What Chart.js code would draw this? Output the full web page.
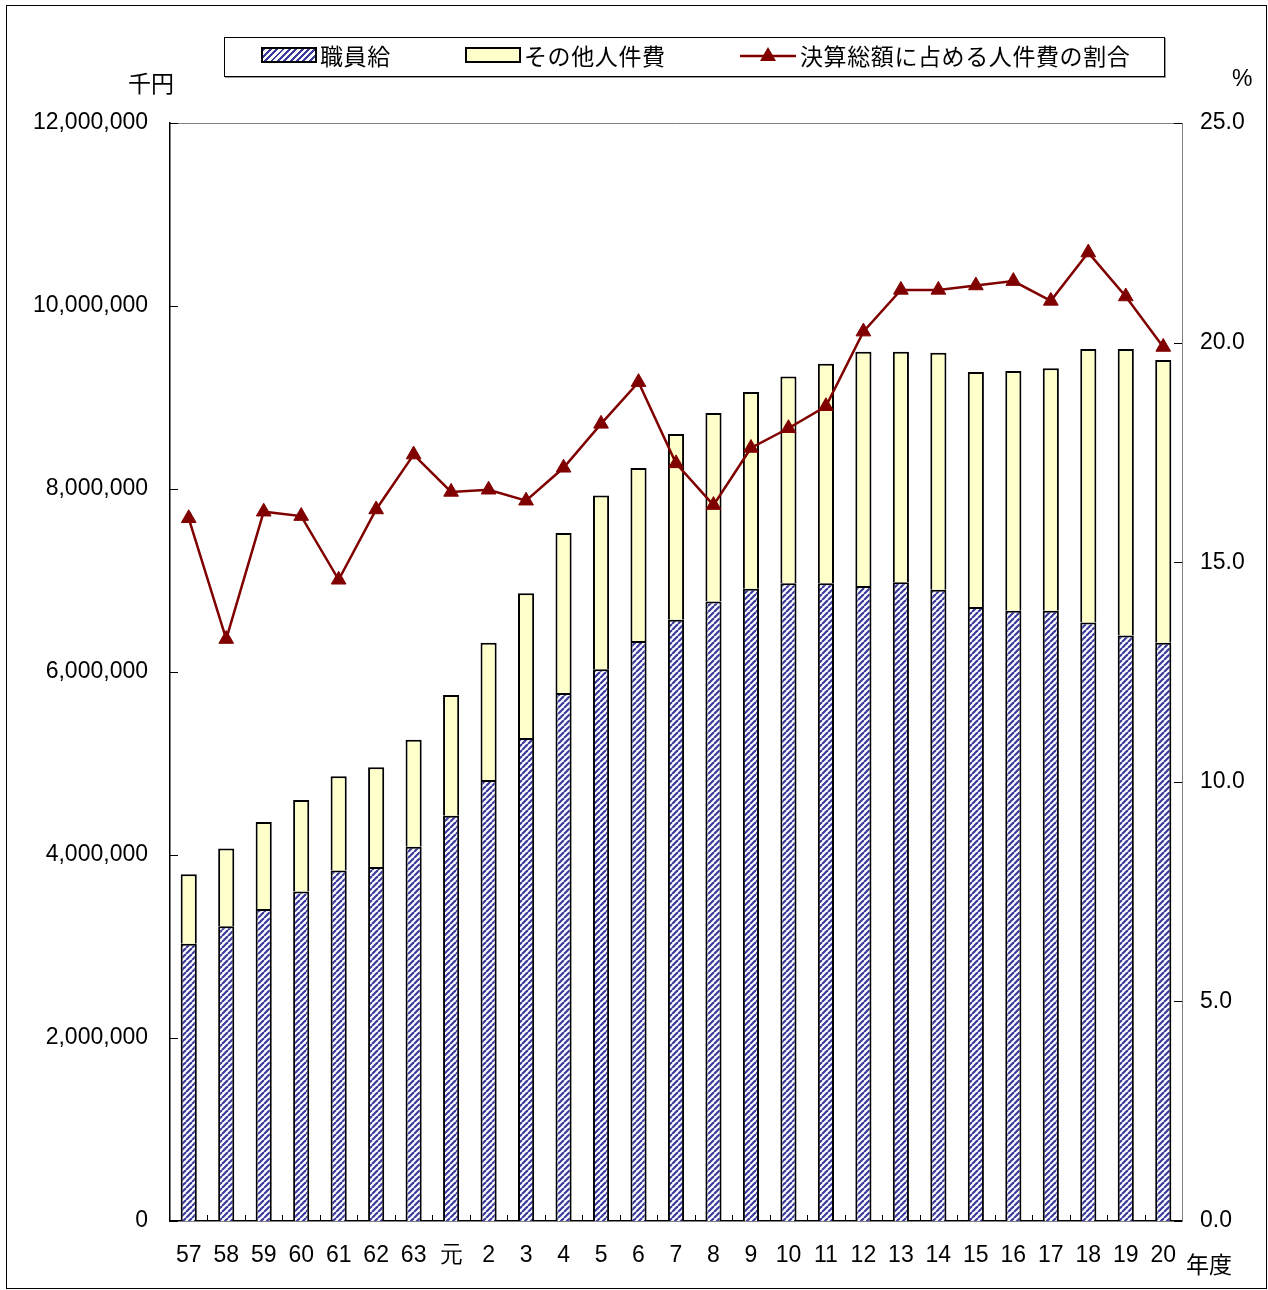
<!DOCTYPE html>
<html lang="ja">
<head>
    <meta charset="UTF-8">
    <title>人件費の推移</title>
    <script src="https://cdn.jsdelivr.net/npm/chart.js"></script>
    <style>
        body {
            margin: 0;
            background: #ffffff;
            font-family: "Liberation Sans", Arial, sans-serif;
        }
        .wrap {
            position: relative;
            width: 1268px;
            height: 1290px;
        }
        .frame {
            position: absolute;
            left: 6px;
            top: 5px;
            width: 1259px;
            height: 1282px;
            border: 1px solid #000;
            pointer-events: none;
        }
        canvas {
            position: absolute;
            left: 0;
            top: 0;
        }
        .legend {
            position: absolute;
            left: 224px;
            top: 37px;
            width: 939px;
            height: 38px;
            border: 1px solid #000;
            box-shadow: 1px 1px 0 #999;
            background: #fff;
        }
        .item {
            position: absolute;
            top: -2px;
            height: 38px;
            display: flex;
            align-items: center;
            font-family: "Noto Sans CJK JP", sans-serif;
            font-size: 23px;
            letter-spacing: 0.6px;
            color: #000;
        }
        .sw {
            width: 52px;
            height: 12px;
            border: 2px solid #000;
            margin-right: 3px;
        }
        .sw.pat {
            background: repeating-linear-gradient(135deg, #3b3b9e 0 2px, #ffffff 2px 4.5px);
        }
        .sw.yel {
            background: #ffffcc;
        }
        .unit {
            position: absolute;
            font-family: "Noto Sans CJK JP", sans-serif;
            font-size: 23px;
            color: #000;
            line-height: 1;
        }
    </style>
</head>
<body>
<div class="wrap">
    <canvas id="chart" width="1268" height="1290"></canvas>
    <div class="frame"></div>
    <div class="legend">
        <div class="item" style="left:36px"><span class="sw pat"></span>職員給</div>
        <div class="item" style="left:240px"><span class="sw yel"></span>その他人件費</div>
        <div class="item" style="left:515px">
            <svg width="58" height="20" style="margin-right:2px">
                <line x1="0" y1="11" x2="56" y2="11" stroke="#800000" stroke-width="2.5"/>
                <polygon points="28,2 36,16 20,16" fill="#800000"/>
            </svg>決算総額に占める人件費の割合
        </div>
    </div>
    <div class="unit" style="left:128px; top:71px">千円</div>
    <div class="unit" style="left:1232px; top:67px; font-family:'Liberation Sans',sans-serif">%</div>
    <div class="unit" style="left:1186px; top:1252px">年度</div>
</div>

<script>
    // 年度
    const years = ['57', '58', '59', '60', '61', '62', '63', '元', '2', '3', '4', '5', '6',
                   '7', '8', '9', '10', '11', '12', '13', '14', '15', '16', '17', '18', '19', '20'];
    // 職員給 (千円)
    const salary = [3030000, 3220000, 3410000, 3600000, 3830000, 3870000, 4090000, 4430000,
                    4820000, 5280000, 5770000, 6030000, 6340000, 6570000, 6770000, 6910000,
                    6970000, 6970000, 6940000, 6980000, 6900000, 6710000, 6670000, 6670000,
                    6540000, 6400000, 6320000];
    // 人件費合計 (千円)
    const total = [3790000, 4070000, 4360000, 4600000, 4860000, 4960000, 5260000, 5750000,
                   6320000, 6860000, 7520000, 7930000, 8230000, 8600000, 8830000, 9060000,
                   9230000, 9370000, 9500000, 9500000, 9490000, 9280000, 9290000, 9320000,
                   9530000, 9530000, 9410000];
    // 決算総額に占める人件費の割合 (%)
    const ratio = [16.0, 13.25, 16.15, 16.05, 14.6, 16.2, 17.45, 16.6, 16.65, 16.4, 17.15,
                   18.15, 19.1, 17.25, 16.3, 17.6, 18.05, 18.55, 20.25, 21.2, 21.2, 21.3,
                   21.4, 20.95, 22.05, 21.05, 19.9];
    const other = total.map((t, i) => t - salary[i]);

    // 斜線パターン
    function makePattern() {
        const s = 6;
        const c = document.createElement('canvas');
        c.width = s; c.height = s;
        const g = c.getContext('2d');
        g.fillStyle = '#ffffff';
        g.fillRect(0, 0, s, s);
        g.strokeStyle = '#3b3b9e';
        g.lineWidth = 2.2;
        for (let k = -1; k <= 1; k++) {
            g.beginPath();
            g.moveTo(k * s, s);
            g.lineTo(k * s + s, 0);
            g.stroke();
        }
        return g.createPattern(c, 'repeat');
    }

    // 内向きの目盛りと枠
    const frameTicks = {
        id: 'frameTicks',
        afterDraw(chart) {
            const ctx = chart.ctx;
            const a = chart.chartArea;
            const yL = chart.scales.y, yR = chart.scales.y1;
            ctx.save();
            ctx.lineWidth = 1;
            ctx.strokeStyle = '#808080';
            ctx.beginPath();
            ctx.moveTo(a.left, a.top + 0.5);
            ctx.lineTo(a.right + 0.5, a.top + 0.5);
            ctx.lineTo(a.right + 0.5, a.bottom);
            ctx.stroke();
            ctx.strokeStyle = '#000';
            ctx.beginPath();
            yL.ticks.forEach(t => {
                const py = Math.round(yL.getPixelForValue(t.value)) + 0.5;
                ctx.moveTo(a.left, py); ctx.lineTo(a.left + 8, py);
            });
            yR.ticks.forEach(t => {
                const py = Math.round(yR.getPixelForValue(t.value)) + 0.5;
                ctx.moveTo(a.right, py); ctx.lineTo(a.right - 8, py);
            });
            const w = (a.right - a.left) / years.length;
            for (let i = 1; i < years.length; i++) {
                const px = Math.round(a.left + i * w) + 0.5;
                ctx.moveTo(px, a.bottom); ctx.lineTo(px, a.bottom - 6);
            }
            ctx.stroke();
            ctx.restore();
        }
    };

    const ctx = document.getElementById('chart').getContext('2d');
    const tickFont = { family: '"Liberation Sans", Arial, sans-serif', size: 23 };

    new Chart(ctx, {
        type: 'bar',
        data: {
            labels: years,
            datasets: [
                {
                    type: 'line',
                    label: '決算総額に占める人件費の割合',
                    data: ratio,
                    yAxisID: 'y1',
                    borderColor: '#800000',
                    backgroundColor: '#800000',
                    borderWidth: 2.5,
                    pointStyle: 'triangle',
                    pointRadius: 8.5,
                    pointBorderWidth: 1,
                    tension: 0,
                    order: 0
                },
                {
                    label: '職員給',
                    data: salary,
                    yAxisID: 'y',
                    backgroundColor: makePattern(),
                    borderColor: '#000',
                    borderWidth: 2,
                    order: 1
                },
                {
                    label: 'その他人件費',
                    data: other,
                    yAxisID: 'y',
                    backgroundColor: '#ffffcc',
                    borderColor: '#000',
                    borderWidth: 2,
                    order: 1
                }
            ]
        },
        options: {
            responsive: false,
            animation: false,
            layout: { padding: { top: 123, left: 0, right: 0, bottom: 0 } },
            datasets: {
                bar: { categoryPercentage: 1, barPercentage: 0.43 }
            },
            plugins: {
                legend: { display: false },
                tooltip: { enabled: false }
            },
            scales: {
                x: {
                    stacked: true,
                    grid: { display: false, drawTicks: false },
                    border: { color: '#000', width: 1.5 },
                    ticks: { font: tickFont, color: '#000', padding: 21, maxRotation: 0, autoSkip: false },
                    afterFit(s) { s.height = 69; }
                },
                y: {
                    stacked: true,
                    position: 'left',
                    min: 0,
                    max: 12000000,
                    grid: { display: false, drawTicks: false },
                    border: { color: '#000', width: 1.5 },
                    ticks: {
                        stepSize: 2000000,
                        font: tickFont,
                        color: '#000',
                        padding: 22,
                        callback: v => v.toLocaleString('en-US')
                    },
                    afterFit(s) { s.width = 170; }
                },
                y1: {
                    position: 'right',
                    min: 0,
                    max: 25,
                    grid: { display: false, drawTicks: false },
                    border: { color: '#808080', width: 1 },
                    ticks: {
                        stepSize: 5,
                        font: tickFont,
                        color: '#000',
                        padding: 18,
                        callback: v => v.toFixed(1)
                    },
                    afterFit(s) { s.width = 86; }
                }
            }
        },
        plugins: [frameTicks]
    });
</script>
</body>
</html>
